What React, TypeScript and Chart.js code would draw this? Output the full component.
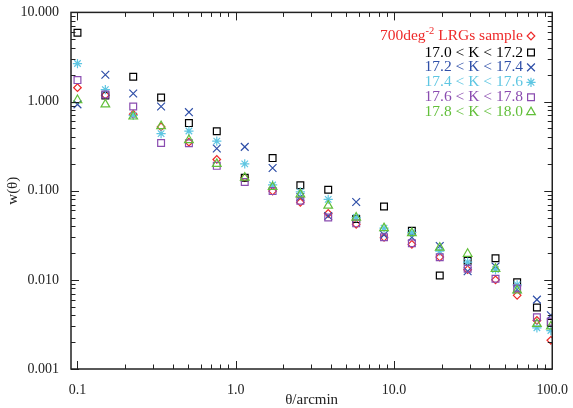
import { useEffect, useRef } from 'react';
import { Chart, registerables } from 'chart.js';
import { drawPoint } from 'chart.js/helpers';

Chart.register(...registerables);

const thetaArcmin = [0.1, 0.15, 0.225, 0.3375, 0.506, 0.759, 1.14, 1.71, 2.56, 3.84, 5.77, 8.65, 12.97, 19.46, 29.2, 43.8, 60, 80, 98];

const wAllLRG = [1.43, 1.18, 0.72, 0.52, 0.35, 0.224, 0.14, 0.099, 0.074, 0.0555, 0.042, 0.030, 0.025, 0.018, 0.013, 0.010, 0.0067, 0.0035, 0.0021];
const wK170 = [5.9, 1.17, 1.9, 1.11, 0.573, 0.464, 0.14, 0.232, 0.115, 0.1026, 0.048, 0.0664, 0.0356, 0.0112, 0.0164, 0.0175, 0.0094, 0.0049, 0.0033];
const wK172 = [0.93, 2.0, 1.23, 0.88, 0.76, 0.297, 0.31, 0.18, 0.085, 0.052, 0.0748, 0.032, 0.030, 0.024, 0.0125, 0.0141, 0.0078, 0.006, 0.004];
const wK174 = [2.67, 1.36, 0.70, 0.436, 0.467, 0.36, 0.2, 0.116, 0.097, 0.08, 0.05, 0.038, 0.034, 0.021, 0.0158, 0.013, 0.0088, 0.0029, 0.0027];
const wK176 = [1.74, 1.2, 0.88, 0.343, 0.34, 0.19, 0.125, 0.099, 0.077, 0.05, 0.043, 0.030, 0.0257, 0.0179, 0.0133, 0.0103, 0.0080, 0.0038, 0.0034];
const wK178 = [1.04, 0.93, 0.68, 0.53, 0.37, 0.20, 0.14, 0.11, 0.091, 0.068, 0.05, 0.038, 0.0335, 0.023, 0.0196, 0.0133, 0.0076, 0.0032, 0.003];

const seriesLabels = [
  '700deg^{-2} LRGs sample',
  '17.0 < K < 17.2',
  '17.2 < K < 17.4',
  '17.4 < K < 17.6',
  '17.6 < K < 17.8',
  '17.8 < K < 18.0',
];
const seriesValues = [wAllLRG, wK170, wK172, wK174, wK176, wK178];

const xTickValues = [0.1, 1, 10, 100];
const yTickValues = [0.001, 0.01, 0.1, 1, 10];

const colors = ['#ee2a2a', '#000000', '#2f4fa8', '#5ec6e2', '#8a4cb0', '#62bf3a'];
const styles = ['rectRot', 'rect', 'crossRot', 'star', 'rect', 'triangle'];
const radii = [3.8, 4.8, 5.5, 4.6, 4.8, 5.0];

const FONT = '"Liberation Serif", "DejaVu Serif", serif';
const AXIS_COLOR = '#222';

const isDecade = (v: number) => Math.abs(Math.log10(v) - Math.round(Math.log10(v))) < 1e-9;

function logMinorValues(min: number, max: number) {
  const out: number[] = [];
  const e0 = Math.floor(Math.log10(min));
  const e1 = Math.ceil(Math.log10(max));
  for (let e = e0; e <= e1; e++) {
    for (let m = 1; m <= 9; m++) {
      const v = m * Math.pow(10, e);
      if (v >= min * 0.9999 && v <= max * 1.0001) out.push(v);
    }
  }
  return out;
}

const framePlugin = {
  id: 'frameTicks',
  afterDatasetsDraw(chart: any) {
    const { ctx, chartArea: a, scales } = chart;
    const xs = scales.x;
    const ys = scales.y;
    ctx.save();
    ctx.strokeStyle = AXIS_COLOR;
    ctx.lineWidth = 1;
    const major = 8;
    const minor = 4.5;
    for (const v of logMinorValues(xs.min, xs.max)) {
      const px = Math.round(xs.getPixelForValue(v)) + 0.5;
      const len = isDecade(v) ? major : minor;
      ctx.beginPath();
      ctx.moveTo(px, a.bottom);
      ctx.lineTo(px, a.bottom - len);
      ctx.moveTo(px, a.top);
      ctx.lineTo(px, a.top + len);
      ctx.stroke();
    }
    for (const v of logMinorValues(ys.min, ys.max)) {
      const py = Math.round(ys.getPixelForValue(v)) + 0.5;
      const len = isDecade(v) ? major : minor;
      ctx.beginPath();
      ctx.moveTo(a.left, py);
      ctx.lineTo(a.left + len, py);
      ctx.moveTo(a.right, py);
      ctx.lineTo(a.right - len, py);
      ctx.stroke();
    }
    ctx.lineWidth = 1.5;
    ctx.strokeRect(a.left, a.top, a.right - a.left, a.bottom - a.top);
    ctx.restore();
  },
};

const legendPlugin = {
  id: 'rightLegend',
  afterDraw(chart: any) {
    const { ctx } = chart;
    const rightX = 523;
    const markerX = 531;
    ctx.save();
    ctx.textBaseline = 'middle';
    seriesLabels.forEach((label, i) => {
      const yc = i === 0 ? 36 : 52.5 + (i - 1) * 14.9;
      ctx.fillStyle = colors[i];
      const m = label.match(/^(.*)\^\{(.*)\}(.*)$/);
      if (m) {
        const mainFont = `15.5px ${FONT}`;
        const supFont = `10.5px ${FONT}`;
        ctx.font = mainFont;
        const w1 = ctx.measureText(m[1]).width;
        const w3 = ctx.measureText(m[3]).width;
        ctx.font = supFont;
        const w2 = ctx.measureText(m[2]).width;
        let x0 = rightX - (w1 + w2 + w3);
        ctx.textAlign = 'left';
        ctx.font = mainFont;
        ctx.fillText(m[1], x0, yc);
        x0 += w1;
        ctx.font = supFont;
        ctx.fillText(m[2], x0, yc - 5);
        x0 += w2;
        ctx.font = mainFont;
        ctx.fillText(m[3], x0, yc);
      } else {
        ctx.font = `15.5px ${FONT}`;
        ctx.textAlign = 'right';
        ctx.fillText(label, rightX, yc);
      }
      ctx.strokeStyle = colors[i];
      ctx.fillStyle = 'rgba(0,0,0,0)';
      ctx.lineWidth = 1.2;
      drawPoint(ctx, { pointStyle: styles[i], radius: radii[i], borderWidth: 1.2, rotation: 0 } as any, markerX, yc);
    });
    ctx.restore();
  },
};

export default function App() {
  const ref = useRef<HTMLCanvasElement | null>(null);
  useEffect(() => {
    document.body.style.margin = '0';
    const canvas = ref.current;
    if (!canvas) return;
    const datasets = seriesValues.map((vals, i) => ({
      label: seriesLabels[i],
      data: thetaArcmin.map((x, j) => ({ x, y: vals[j] })),
      pointStyle: styles[i],
      pointRadius: radii[i],
      pointBorderWidth: 1.2,
      borderColor: colors[i],
      backgroundColor: 'rgba(0,0,0,0)',
      pointBackgroundColor: 'rgba(0,0,0,0)',
      pointBorderColor: colors[i],
      showLine: false,
      clip: 0,
      order: 6 - i,
    }));
    const chart = new Chart(canvas, {
      type: 'scatter',
      data: { datasets },
      plugins: [framePlugin, legendPlugin],
      options: {
        animation: false,
        responsive: false,
        events: [],
        layout: { padding: { top: 10, right: 16, bottom: 0, left: 0 } },
        plugins: { legend: { display: false }, tooltip: { enabled: false } },
        scales: {
          x: {
            type: 'logarithmic',
            position: 'bottom',
            min: 0.091,
            max: 100,
            grid: { display: false },
            border: { display: false },
            afterBuildTicks: (s: any) => { s.ticks = xTickValues.map((v) => ({ value: v })); },
            afterFit: (s: any) => { s.height = 39; },
            ticks: {
              autoSkip: false,
              maxRotation: 0,
              padding: 5,
              color: AXIS_COLOR,
              font: { family: FONT, size: 14 },
              callback: (v: any) => Number(v).toFixed(1),
            },
            title: {
              display: true,
              text: 'θ/arcmin',
              color: AXIS_COLOR,
              font: { family: FONT, size: 15, lineHeight: 1 },
              padding: { top: 0, bottom: 0 },
            },
          },
          y: {
            type: 'logarithmic',
            position: 'left',
            min: 0.001,
            max: 10,
            grid: { display: false },
            border: { display: false },
            afterBuildTicks: (s: any) => { s.ticks = yTickValues.map((v) => ({ value: v })); },
            afterFit: (s: any) => { s.width = 71; },
            ticks: {
              autoSkip: false,
              padding: 4,
              color: AXIS_COLOR,
              font: { family: FONT, size: 14 },
              callback: (v: any) => Number(v).toFixed(3),
            },
            title: {
              display: true,
              text: 'w(θ)',
              color: AXIS_COLOR,
              font: { family: FONT, size: 15, lineHeight: 1 },
              padding: { top: 6, bottom: 0 },
            },
          },
        },
      } as any,
    });
    return () => chart.destroy();
  }, []);
  return <canvas ref={ref} width={573} height={408} style={{ display: 'block' }} />;
}
